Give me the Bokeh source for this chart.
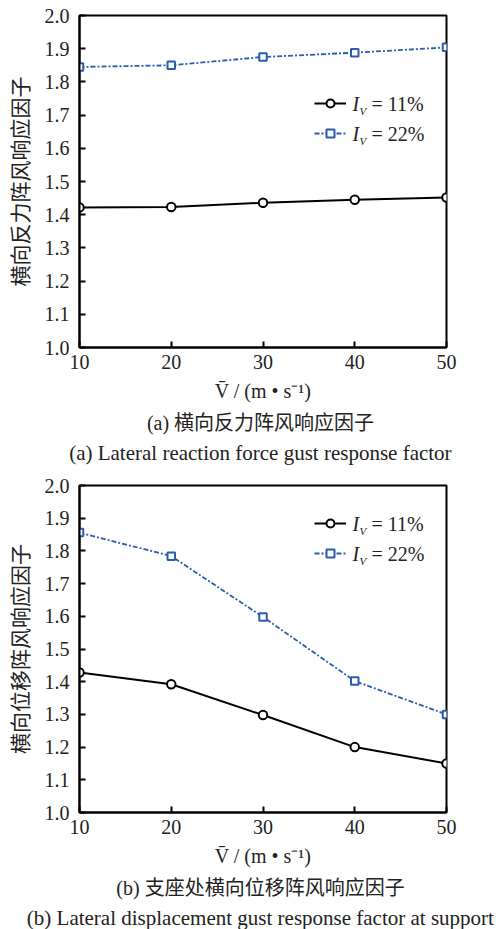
from bokeh.plotting import figure
from bokeh.models import Legend, LegendItem, Label, Title, FixedTicker, Range1d, NumeralTickFormatter
from bokeh.layouts import column
from bokeh.embed import file_html
from bokeh.resources import INLINE

# ---- data ----
speed = [10, 20, 30, 40, 50]
react_iv11 = [1.422, 1.423, 1.436, 1.445, 1.452]
react_iv22 = [1.845, 1.850, 1.875, 1.888, 1.904]
disp_iv11 = [1.428, 1.392, 1.298, 1.200, 1.150]
disp_iv22 = [1.856, 1.784, 1.598, 1.402, 1.300]
x_ticks = [10, 20, 30, 40, 50]
y_ticks = [1.0, 1.1, 1.2, 1.3, 1.4, 1.5, 1.6, 1.7, 1.8, 1.9, 2.0]
series_names = ["11%", "22%"]

SERIF = "Liberation Serif"
CJK = "Noto Sans CJK SC"
MIXED = "Liberation Serif, Noto Sans CJK SC"
BLUE = "#2a5db0"
TXT = "#222222"


def lab(p, x, y, text, font=SERIF, size="20px", style="normal", align="left"):
    p.add_layout(Label(x=x, y=y, x_units="screen", y_units="screen", text=text,
                       text_font=font, text_font_style=style, text_font_size=size,
                       text_baseline="middle", text_align=align, text_color=TXT))


def make_panel(y11, y22, ylabel, cap_cn, cap_en, height, b_top, b_bottom, leg_y):
    p = figure(width=502, height=height, output_backend="svg", toolbar_location=None,
               x_range=Range1d(10, 50), y_range=Range1d(1.0, 2.0),
               min_border_left=75, min_border_right=56,
               min_border_top=b_top, min_border_bottom=b_bottom)
    p.xgrid.visible = False
    p.ygrid.visible = False
    p.outline_line_color = "black"
    p.outline_line_width = 2
    p.outline_line_alpha = 1
    for ax in (p.xaxis[0], p.yaxis[0]):
        ax.axis_line_width = 2
        ax.axis_line_color = "black"
        ax.major_tick_in = 6
        ax.major_tick_out = 0
        ax.major_tick_line_width = 2
        ax.minor_tick_line_color = None
        ax.major_label_text_font = SERIF
        ax.major_label_text_font_size = "20px"
        ax.major_label_text_color = TXT
    p.xaxis.ticker = FixedTicker(ticks=x_ticks)
    p.yaxis.ticker = FixedTicker(ticks=y_ticks)
    p.yaxis.formatter = NumeralTickFormatter(format="0.0")
    p.xaxis.major_label_standoff = 7
    p.yaxis.major_label_standoff = 10

    p.yaxis.axis_label = ylabel
    p.yaxis.axis_label_text_font = CJK
    p.yaxis.axis_label_text_font_size = "21px"
    p.yaxis.axis_label_text_font_style = "normal"
    p.yaxis.axis_label_standoff = 8
    p.yaxis.axis_label_text_color = TXT

    p.xaxis.axis_label = "V\u0304 / (m \u2022 s\u207b\u00b9)"
    p.xaxis.axis_label_text_font = SERIF
    p.xaxis.axis_label_text_font_size = "20px"
    p.xaxis.axis_label_text_font_style = "normal"
    p.xaxis.axis_label_standoff = 8
    p.xaxis.axis_label_text_color = TXT

    r1l = p.line(speed, y11, line_color="black", line_width=2)
    r1m = p.scatter(speed, y11, marker="circle", size=8.5, fill_color="white",
                    line_color="black", line_width=2)
    r2l = p.line(speed, y22, line_color=BLUE, line_width=1.8, line_dash="5 2 2 2")
    r2m = p.scatter(speed, y22, marker="square", size=7.5, fill_color="white",
                    line_color=BLUE, line_width=2)

    leg = Legend(items=[LegendItem(label=" ", renderers=[r1l, r1m]),
                        LegendItem(label=" ", renderers=[r2l, r2m])],
                 location=(235, leg_y - 55), glyph_width=32, glyph_height=20,
                 label_height=20, label_width=10, spacing=10, padding=0, margin=0,
                 border_line_alpha=0, background_fill_alpha=0,
                 label_text_font_size="10px", label_standoff=0)
    p.add_layout(leg)

    for i, name in enumerate(series_names):
        yy = leg_y - 15 - 30 * i
        lab(p, 273, yy, "I", style="italic")
        lab(p, 280, yy - 7, "V", size="11px", style="italic")
        lab(p, 292, yy, "= " + name)

    p.add_layout(Title(text=cap_cn, align="center", text_font=MIXED, text_font_size="20px",
                       text_line_height=0.85, text_font_style="normal", standoff=10,
                       text_color=TXT), "below")
    p.add_layout(Title(text=cap_en, align="center", text_font=SERIF, text_font_size="21px",
                       text_line_height=0.85, text_font_style="normal", standoff=0,
                       text_color=TXT), "below")
    return p


p1 = make_panel(react_iv11, react_iv22, "横向反力阵风响应因子",
                "(a)  横向反力阵风响应因子", "(a)  Lateral reaction force gust response factor",
                465, 15, 118, 259)
p2 = make_panel(disp_iv11, disp_iv22, "横向位移阵风响应因子",
                "(b)  支座处横向位移阵风响应因子",
                "(b)  Lateral displacement gust response factor at support",
                464, 20, 113, 304)

layout = column(p1, p2, spacing=0)
open("out.html", "w").write(file_html(layout, INLINE))
